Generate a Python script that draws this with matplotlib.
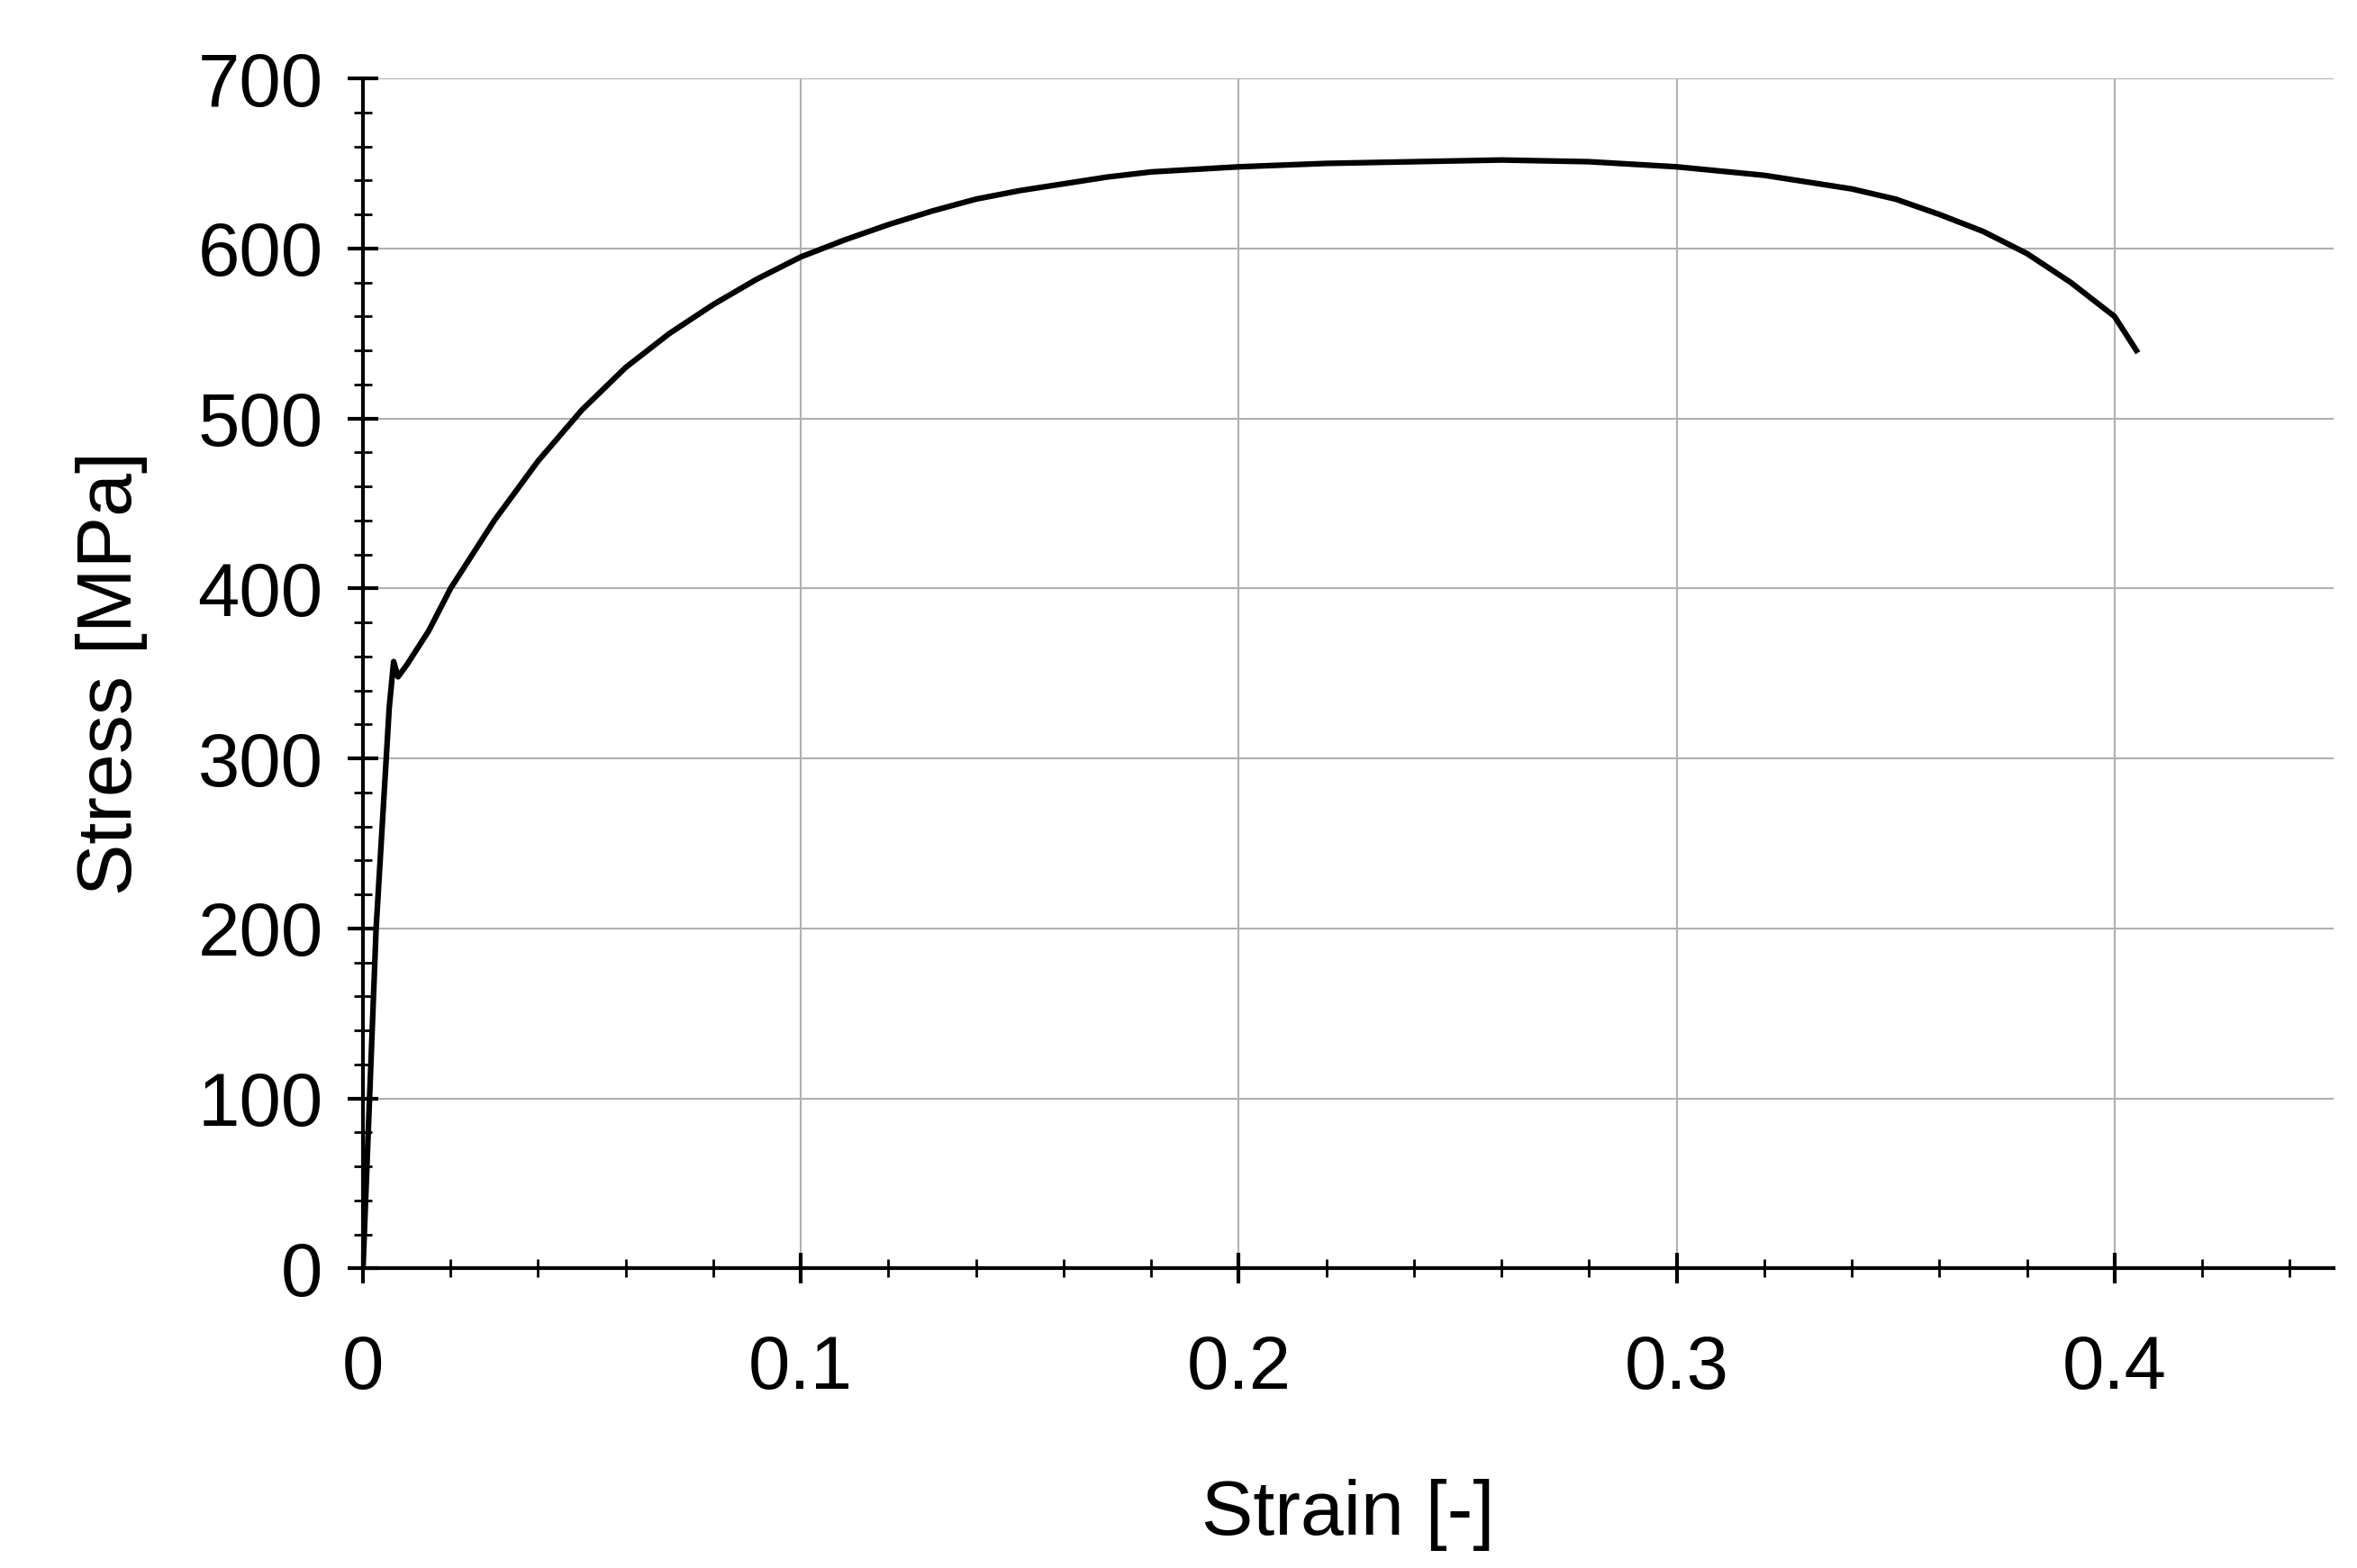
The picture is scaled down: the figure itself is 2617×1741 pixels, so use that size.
import matplotlib.pyplot as plt
from matplotlib.ticker import MultipleLocator

strain = [0, 0.003, 0.006, 0.007, 0.008, 0.010, 0.015, 0.020, 0.030, 0.040, 0.050,
          0.060, 0.070, 0.080, 0.090, 0.100, 0.110, 0.120, 0.130, 0.140, 0.150,
          0.160, 0.170, 0.180, 0.200, 0.220, 0.240, 0.260, 0.280, 0.300, 0.320,
          0.340, 0.350, 0.360, 0.370, 0.380, 0.390, 0.400, 0.405]
stress = [0, 200, 330, 357, 348, 355, 375, 400, 440, 475, 505,
          530, 550, 567, 582, 595, 605, 614, 622, 629, 634,
          638, 642, 645, 648, 650, 651, 652, 651, 648, 643,
          635, 629, 620, 610, 597, 580, 560, 540]

plt.rcParams['font.family'] = ['Liberation Sans', 'DejaVu Sans']
fig = plt.figure(figsize=(26.17, 17.41), dpi=100)
ax = fig.add_axes([0.154, 0.191, 0.836, 0.759])

ax.plot(strain, stress, color='black', linewidth=4.5)

ax.set_xlim(0, 0.45)
ax.set_ylim(0, 700)
ax.xaxis.set_major_locator(MultipleLocator(0.1))
ax.xaxis.set_minor_locator(MultipleLocator(0.02))
ax.yaxis.set_major_locator(MultipleLocator(100))
ax.yaxis.set_minor_locator(MultipleLocator(20))
ax.xaxis.set_major_formatter(lambda v, p: '0' if v == 0 else f'{v:.1f}')

ax.grid(True, which='major', color='#b0b0b0', linewidth=1.5)
ax.set_axisbelow(True)
for s in ['top', 'right']:
    ax.spines[s].set_visible(False)
for s in ['left', 'bottom']:
    ax.spines[s].set_linewidth(3)

ax.tick_params(which='major', direction='inout', length=24, width=3, labelsize=60)
ax.tick_params(axis='x', which='major', pad=40)
ax.tick_params(axis='y', which='major', pad=20)
ax.tick_params(which='minor', direction='inout', length=14, width=2)

ax.set_xlabel('Strain [-]', fontsize=62, labelpad=60)
ax.set_ylabel('Stress [MPa]', fontsize=62, labelpad=40)

fig.savefig('out.png', dpi=100)
